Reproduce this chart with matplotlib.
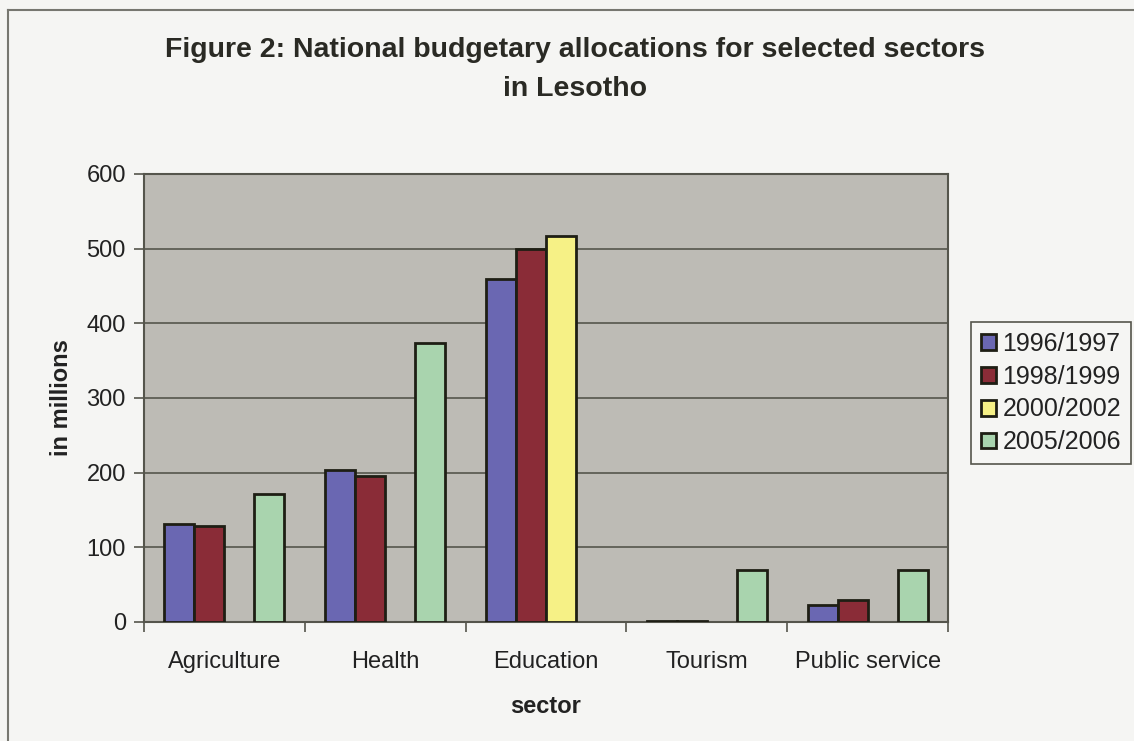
import numpy as np
import matplotlib
matplotlib.use("Agg")
import matplotlib.pyplot as plt
import matplotlib.lines as mlines

plt.rcParams['font.family'] = ['Liberation Sans', 'DejaVu Sans']

# data (in millions)
sectors = ["Agriculture", "Health", "Education", "Tourism", "Public service"]
years = ["1996/1997", "1998/1999", "2000/2002", "2005/2006"]
alloc_1996 = [131, 203, 459, 1.5, 23]
alloc_1998 = [129, 195, 500, 1.5, 30]
alloc_2000 = [np.nan, np.nan, 517, np.nan, np.nan]
alloc_2005 = [172, 373, np.nan, 70, 70]
series = [alloc_1996, alloc_1998, alloc_2000, alloc_2005]
colors = ["#6a67b2", "#8a2c37", "#f6f186", "#a9d4ae"]

y_ticks = [0, 100, 200, 300, 400, 500, 600]

fig = plt.figure(figsize=(11.34, 7.41), dpi=100, facecolor="#f5f5f3")
ax = fig.add_axes([144 / 1134, 1 - 622 / 741, 804 / 1134, 448 / 741])
ax.set_facecolor("#bdbbb5")

x = np.arange(len(sectors))
w = 0.1866
for i, (vals, col, lab) in enumerate(zip(series, colors, years)):
    ax.bar(x + (i - 1.5) * w, vals, width=w, color=col, edgecolor="#1e1e14",
           linewidth=2, label=lab, zorder=3)

ax.set_xlim(-0.5, len(sectors) - 0.5)
ax.set_ylim(0, 600)
ax.set_yticks(y_ticks)
ax.yaxis.grid(True, color="#55554c", linewidth=1.2, zorder=1)
ax.set_axisbelow(True)

# category labels centred, tick marks on the category boundaries
ax.set_xticks(x)
ax.set_xticklabels(sectors)
ax.set_xticks(np.arange(-0.5, len(sectors)), minor=True)
ax.tick_params(axis="x", which="major", length=0, pad=21, labelsize=17, colors="#222222")
ax.tick_params(axis="x", which="minor", length=7, width=1.2, color="#55554c")
ax.tick_params(axis="y", length=7, width=1.2, color="#55554c", pad=6, labelsize=17,
               labelcolor="#222222")

for side in ax.spines.values():
    side.set_color("#55554c")
    side.set_linewidth(1.5)

ax.set_ylabel("in millions", fontsize=17, fontweight="bold", color="#222222", labelpad=10)
ax.set_xlabel("sector", fontsize=17, fontweight="bold", color="#222222", labelpad=16)

fig.text(575 / 1134, 1 - 50 / 741, "Figure 2: National budgetary allocations for selected sectors",
         ha="center", va="center", fontsize=20.5, fontweight="bold", color="#2a2a24")
fig.text(575 / 1134, 1 - 89 / 741, "in Lesotho",
         ha="center", va="center", fontsize=20.5, fontweight="bold", color="#2a2a24")

leg = ax.legend(loc="upper left", bbox_to_anchor=(971 / 1134, 1 - 322 / 741),
                bbox_transform=fig.transFigure, borderaxespad=0, fontsize=18,
                handlelength=0.6, handleheight=0.6, handletextpad=0.25,
                labelspacing=0.35, borderpad=0.4, fancybox=False, framealpha=1)
leg.get_frame().set_edgecolor("#55554c")
leg.get_frame().set_facecolor("#f5f5f3")
leg.get_frame().set_linewidth(1.2)
for t in leg.get_texts():
    t.set_color("#222222")

# outer chart border (left and top edges of the scanned frame)
fig.add_artist(mlines.Line2D([8 / 1134, 8 / 1134], [0, 1 - 10 / 741],
                             transform=fig.transFigure, color="#777770", linewidth=1.5))
fig.add_artist(mlines.Line2D([8 / 1134, 1], [1 - 10 / 741, 1 - 10 / 741],
                             transform=fig.transFigure, color="#777770", linewidth=1.5))

fig.savefig("out.png", dpi=100, facecolor=fig.get_facecolor())
